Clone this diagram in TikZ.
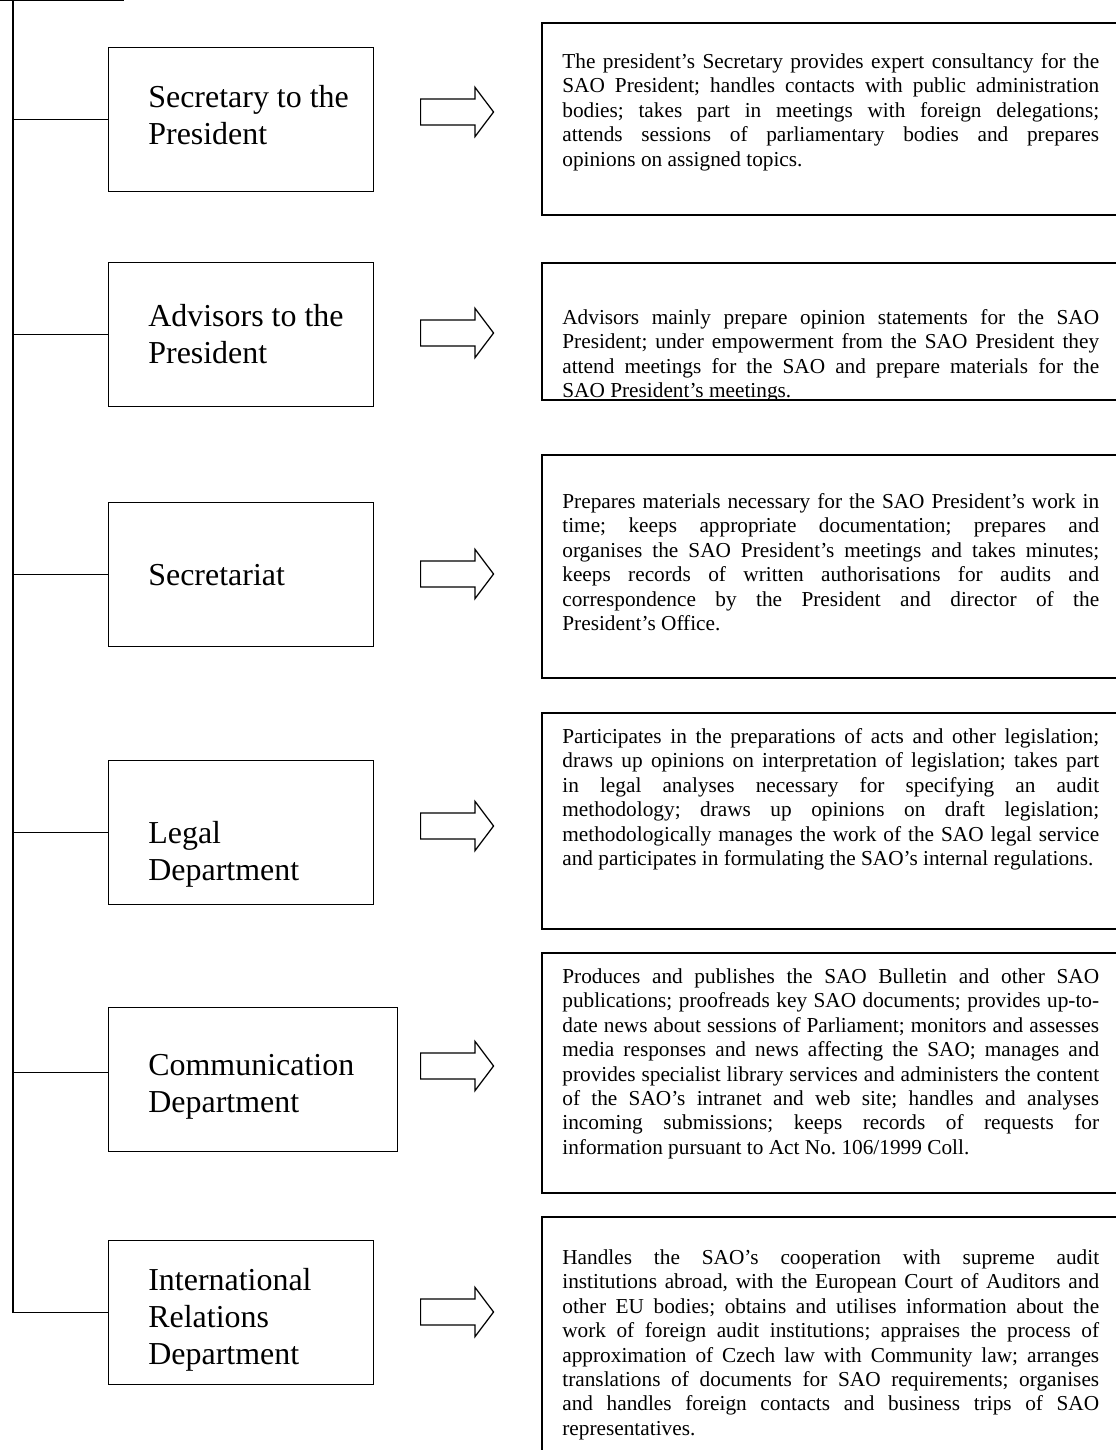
\documentclass[tikz,border=0pt]{standalone}
\usepackage{fontspec}
\setmainfont{Liberation Serif}
\usepackage{tikz}
\usetikzlibrary{positioning,shapes.arrows}
\tolerance=10000\relax
\hbadness=10000\relax
\frenchspacing

\tikzset{
  unit/.style={draw,line width=0.75pt,minimum width=149.3pt,minimum height=81.1pt,inner sep=0pt,anchor=north west},
  unitname/.style={anchor=north west,inner sep=0pt,align=left,font=\fontsize{18}{20.85}\selectfont},
  duty/.style={draw,line width=1.1pt,minimum width=332.5pt,inner sep=0pt,anchor=north west},
  dutytext/.style={anchor=north west,inner sep=0pt,text width=302.5pt,align=justify,
    font=\fontsize{12}{13.75}\selectfont},
  pointer/.style={single arrow,draw,line width=0.7pt,minimum height=41.1pt,inner xsep=0pt,inner ysep=7pt,
    single arrow head extend=6.5pt,single arrow tip angle=106,single arrow head indent=0pt,anchor=tail},
  branch/.style={line width=0.7pt}
}

\begin{document}
\begin{tikzpicture}[x=0.5635pt,y=-0.5635pt]
\path[use as bounding box,clip] (0,0) rectangle (1116,1450);

% office above, cut by the page
\node[draw,line width=0.75pt,minimum width=84.5pt,minimum height=33.8pt,anchor=south east] (office) at (124,1.5) {};
\coordinate (trunk) at (13,1.5);

% units
\node[unit] (secr) at (108,47) {};
\node[unit] (adv) at (108,262) {};
\node[unit] (sect) at (108,502) {};
\node[unit] (legal) at (108,760) {};
\node[unit,minimum width=162.9pt] (comm) at (108,1007) {};
\node[unit] (intl) at (108,1240) {};

\node[unitname] (secr-t) at (148,81) {\strut Secretary to the\\President};
\node[unitname] (adv-t) at (148,300) {\strut Advisors to the\\President};
\node[unitname] (sect-t) at (148,559) {\strut Secretariat};
\node[unitname] (legal-t) at (148,817) {\strut Legal\\Department};
\node[unitname] (comm-t) at (148,1049) {\strut Communication\\Department};
\node[unitname] (intl-t) at (148,1264) {\strut International\\Relations\\Department};

% tree
\draw[branch] (trunk) -- (trunk |- intl.west) -- (intl.west);
\draw[branch] (trunk |- secr.west) -- (secr.west);
\draw[branch] (trunk |- adv.west) -- (adv.west);
\draw[branch] (trunk |- sect.west) -- (sect.west);
\draw[branch] (trunk |- legal.west) -- (legal.west);
\draw[branch] ([yshift=3.9pt]trunk |- comm.west) -- ([yshift=3.9pt]comm.west);

% arrows
\node[pointer] (secr-a) at (420,112) {};
\node[pointer] (adv-a) at (420,333) {};
\node[pointer] (sect-a) at (420,574) {};
\node[pointer] (legal-a) at (420,826) {};
\node[pointer] (comm-a) at (420,1066) {};
\node[pointer] (intl-a) at (420,1312) {};

% duties
\node[duty,minimum height=108.2pt] (secr-d) at (541,22) {};
\node[duty,minimum height=77.2pt] (adv-d) at (541,262) {};
\node[duty,minimum height=125.7pt] (sect-d) at (541,454) {};
\node[duty,minimum height=121.7pt] (legal-d) at (541,712) {};
\node[duty,minimum height=135.2pt] (comm-d) at (541,952) {};
\node[duty,minimum height=140pt] (intl-d) at (541,1216) {};

\node[dutytext] (secr-x) at (562,51) {\strut The president's Secretary provides expert consultancy for the\linebreak
SAO President; handles contacts with public administration\linebreak
bodies; takes part in meetings with foreign delegations;\linebreak
attends sessions of parliamentary bodies and prepares\linebreak
opinions on assigned topics.};

\begin{scope}
\clip (541,262) rectangle (1116,399);
\node[dutytext] (adv-x) at (562,307) {\strut Advisors mainly prepare opinion statements for the SAO\linebreak
President; under empowerment from the SAO President they\linebreak
attend meetings for the SAO and prepare materials for the\linebreak
SAO President's meetings.};
\end{scope}

\node[dutytext] (sect-x) at (562,491) {\strut Prepares materials necessary for the SAO President's work in\linebreak
time; keeps appropriate documentation; prepares and\linebreak
organises the SAO President's meetings and takes minutes;\linebreak
keeps records of written authorisations for audits and\linebreak
correspondence by the President and director of the\linebreak
President's Office.};

\node[dutytext] (legal-x) at (562,726) {\strut Participates in the preparations of acts and other legislation;\linebreak
draws up opinions on interpretation of legislation; takes part\linebreak
in legal analyses necessary for specifying an audit\linebreak
methodology; draws up opinions on draft legislation;\linebreak
methodologically manages the work of the SAO legal service\linebreak
and participates in formulating the SAO's internal regulations.};

\node[dutytext] (comm-x) at (562,966) {\strut Produces and publishes the SAO Bulletin and other SAO\linebreak
publications; proofreads key SAO documents; provides up-to-\linebreak
date news about sessions of Parliament; monitors and assesses\linebreak
media responses and news affecting the SAO; manages and\linebreak
provides specialist library services and administers the content\linebreak
of the SAO's intranet and web site; handles and analyses\linebreak
incoming submissions; keeps records of requests for\linebreak
information pursuant to Act No. 106/1999 Coll.};

\node[dutytext] (intl-x) at (562,1247) {\strut Handles the SAO's cooperation with supreme audit\linebreak
institutions abroad, with the European Court of Auditors and\linebreak
other EU bodies; obtains and utilises information about the\linebreak
work of foreign audit institutions; appraises the process of\linebreak
approximation of Czech law with Community law; arranges\linebreak
translations of documents for SAO requirements; organises\linebreak
and handles foreign contacts and business trips of SAO\linebreak
representatives.};
\end{tikzpicture}
\end{document}
